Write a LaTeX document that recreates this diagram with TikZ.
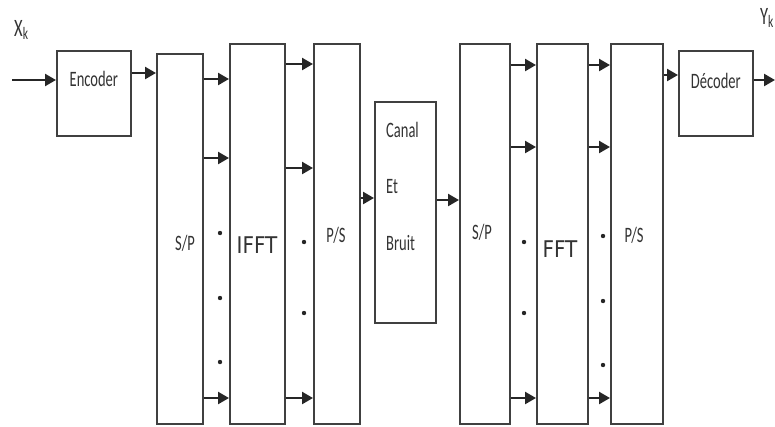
\documentclass[tikz,border=0pt]{standalone}
\usepackage{fontspec}
\setmainfont{Carlito}
\newfontfamily\lblfont[FakeStretch=0.66]{Carlito}
\newfontfamily\fftfont[FakeStretch=0.87]{DejaVu Sans}
\usetikzlibrary{arrows.meta, positioning}

\begin{document}
\begin{tikzpicture}[x=1pt, y=1pt,
    >={Triangle[length=11pt, width=12pt]},
    blk/.style={draw=black!75, line width=1.7pt, inner sep=0pt, anchor=north west},
    tall/.style={blk, minimum height=380pt},
    lbl/.style={font=\lblfont\fontsize{22}{24}\selectfont, text=black!80, inner sep=0pt},
    sig/.style={font=\lblfont\fontsize{25}{27}\selectfont, text=black!80, inner sep=0pt, anchor=west},
    big/.style={font=\fftfont\fontsize{23}{25}\selectfont, text=black!80, inner sep=0pt},
    arr/.style={->, line width=2.4pt, black!85},
    dot/.style={fill=black!85}]
  \useasboundingbox (0,0) rectangle (775,-426);

  % emetteur
  \node[blk, minimum width=74pt, minimum height=85pt] (enc) at (56,-50) {};
  \node[tall, minimum width=46pt, minimum height=370pt] (sp1) at (156,-53) {};
  \node[tall, minimum width=55pt] (ifft) at (229,-43) {};
  \node[tall, minimum width=46pt] (ps1) at (313,-43) {};
  % canal
  \node[blk, minimum width=61pt, minimum height=221pt] (canal) at (374,-101) {};
  % recepteur
  \node[tall, minimum width=50pt] (sp2) at (459,-43) {};
  \node[tall, minimum width=51pt] (fft) at (536,-43) {};
  \node[tall, minimum width=52pt] (ps2) at (610,-43) {};
  \node[blk, minimum width=74pt, minimum height=85pt] (dec) at (678,-50) {};

  % textes
  \node[lbl] (enct) at ([yshift=-29pt]enc.north) {Encoder};
  \node[lbl] (sp1t) at (185,-243) {S/P};
  \node[big] (ifftt) at (257,-245) {IFFT};
  \node[lbl] (ps1t) at (336,-235) {P/S};
  \node[lbl, anchor=west] (canalt) at ([xshift=12pt, yshift=-29pt]canal.north west) {Canal};
  \node[lbl, below=57pt of canalt.west, anchor=west] (ett) {Et};
  \node[lbl, below=56pt of ett.west, anchor=west] (bruitt) {Bruit};
  \node[lbl] (sp2t) at (482,-232) {S/P};
  \node[big] (fftt) at (560,-249) {FFT};
  \node[lbl] (ps2t) at (634,-235) {P/S};
  \node[lbl] (dect) at ([yshift=-31pt]dec.north) {Décoder};
  \node[sig] (xk) at (14,-30) {X\textsubscript{k}};
  \node[sig, anchor=east] (yk) at (774,-18) {Y\textsubscript{k}};

  % fleches
  \coordinate (in) at (12,-80);
  \coordinate (out) at (775,-80);
  \draw[arr] (in) -- (in -| enc.west);
  \draw[arr] (enc.east |- 0,-73) -- (sp1.west |- 0,-73);
  \foreach \y in {79,158,398}
    \draw[arr] (sp1.east |- 0,-\y) -- (ifft.west |- 0,-\y);
  \foreach \y in {64,168,398}
    \draw[arr] (ifft.east |- 0,-\y) -- (ps1.west |- 0,-\y);
  \draw[arr] (ps1.east |- 0,-198) -- (canal.west |- 0,-198);
  \draw[arr] (canal.east |- 0,-200) -- (sp2.west |- 0,-200);
  \foreach \y in {65,147,398}{
    \draw[arr] (sp2.east |- 0,-\y) -- (fft.west |- 0,-\y);
    \draw[arr] (fft.east |- 0,-\y) -- (ps2.west |- 0,-\y);
  }
  \draw[arr] (ps2.east |- 0,-75) -- (dec.west |- 0,-75);
  \draw[arr] (dec.east |- out) -- (out);

  % points de suspension
  \foreach \y in {233,298,362} \fill[dot] (220,-\y) circle (2.2pt);
  \foreach \y in {242,313} \fill[dot] (304,-\y) circle (2.2pt);
  \foreach \y in {242,313} \fill[dot] (524,-\y) circle (2.2pt);
  \foreach \y in {236,301,365} \fill[dot] (603,-\y) circle (2.2pt);
\end{tikzpicture}
\end{document}
